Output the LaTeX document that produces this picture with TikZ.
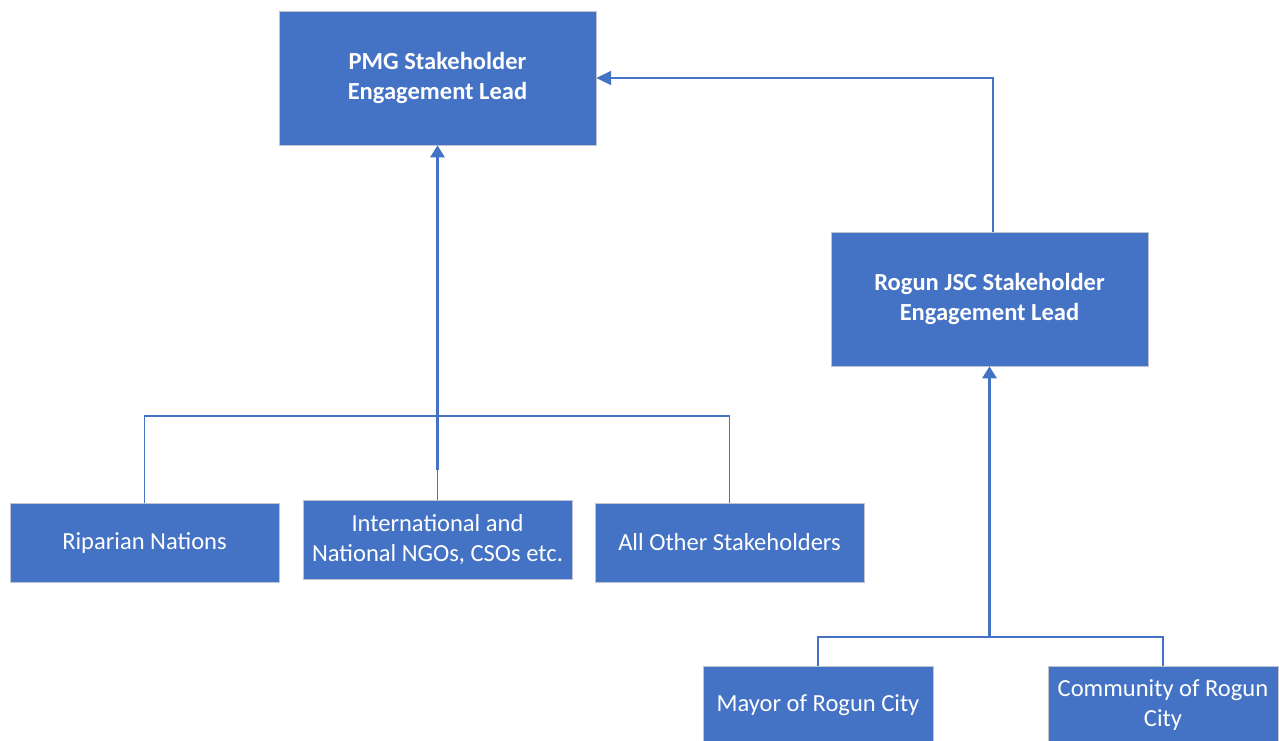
\documentclass[tikz,border=0pt]{standalone}
\usepackage{fontspec}
\setmainfont{Carlito}
\usetikzlibrary{arrows.meta}
\definecolor{boxblue}{RGB}{68,114,196}
\definecolor{boxedge}{RGB}{190,196,208}
\begin{document}
\begin{tikzpicture}[x=0.75pt,y=-0.75pt,
    leadbox/.style={fill=boxblue,draw=boxedge,line width=0.5pt,text=white,align=center,
        minimum width=237.75pt,minimum height=100.5pt,inner sep=0pt,
        font=\fontsize{18.4}{22.5}\selectfont\bfseries},
    groupbox/.style={fill=boxblue,draw=boxedge,line width=0.5pt,text=white,align=center,
        minimum width=201.75pt,minimum height=59.25pt,inner sep=0pt,
        font=\fontsize{18.4}{22.5}\selectfont},
    cityox/.style={groupbox,minimum width=172.5pt},
    thinlink/.style={draw=boxblue,line width=1.2pt},
    mainlink/.style={draw=boxblue,line width=2.2pt,-{Triangle[width=10.5pt,length=9pt]}},
    sidelink/.style={draw=boxblue,line width=1.2pt,-{Triangle[width=10.5pt,length=11pt]}}]
    \clip (0,0) rectangle (1279,740);

    % leads
    \node[leadbox] (pmg) at (437.5,78) {PMG Stakeholder\\Engagement Lead};
    \node[leadbox] (rogun) at (989.5,299) {Rogun JSC Stakeholder\\Engagement Lead};

    % stakeholder groups
    \node[groupbox] (riparian) at (144.5,542.5) {Riparian Nations};
    \node[groupbox] (ngo) at (437.5,540) {International and\\National NGOs, CSOs etc.};
    \node[groupbox] (other) at (729.5,542.5) {All Other Stakeholders};

    % city
    \node[cityox] (mayor) at (818,705.5) {Mayor of Rogun City};
    \node[cityox] (community) at (1163,705.5) {Community of Rogun\\City};

    % bus lines
    \coordinate (bus) at (437.5,416);
    \coordinate (busup) at (437.5,470);
    \coordinate (citybus) at (989.5,637);
    \draw[thinlink] (riparian.north) |- (bus) -| (other.north);
    \draw[thinlink] (ngo.north) -- (busup);
    \draw[thinlink] (mayor.north) |- (citybus) -| (community.north);

    % arrows
    \draw[mainlink] (busup) -- (pmg.south);
    \draw[mainlink] (citybus) -- (rogun.south);
    \draw[sidelink] ([xshift=2.5pt]rogun.north) |- (pmg.east);
\end{tikzpicture}
\end{document}
